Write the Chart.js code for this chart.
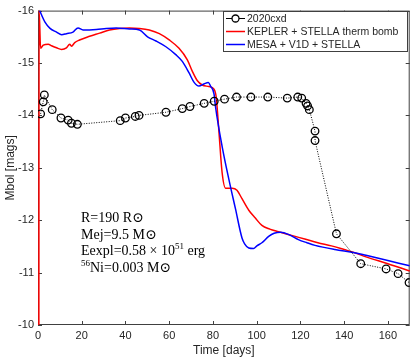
<!DOCTYPE html>
<html>
<head>
<meta charset="utf-8">
<script src="https://cdn.jsdelivr.net/npm/chart.js@4.4.0/dist/chart.umd.min.js"></script>
<style>
  html, body { margin: 0; padding: 0; background: #fff; }
  #wrap { position: relative; width: 415px; height: 358px; }
  #note {
    position: absolute; left: 81px; top: 210px;
    font-family: "Liberation Serif", "DejaVu Serif", serif;
    font-size: 14px; line-height: 16.5px; color: #000;
    white-space: nowrap;
  }
  #note sup { font-size: 9px; line-height: 0; }
</style>
</head>
<body>
<div id="wrap">
  <canvas id="chart" width="415" height="358"></canvas>
  <div id="note">
    R=190 R&#8857;<br>
    Mej=9.5 M&#8857;<br>
    Eexpl=0.58 &times; 10<sup>51</sup> erg<br>
    <sup>56</sup>Ni=0.003 M&#8857;
  </div>
</div>
<script>
// ── datos ──
const X_TICKS = [0, 20, 40, 60, 80, 100, 120, 140, 160];
const Y_TICKS = [-16, -15, -14, -13, -12, -11, -10];

const OBS_LABEL = '2020cxd';
const OBS_DIAS = [1.2, 2.4, 2.9, 6.5, 10.5, 13.8, 15.3, 18.0, 37.6, 40.0, 44.5, 46.2, 58.5, 66.0, 69.5, 76.0, 80.6, 85.3,
  90.8, 97.4, 105.1, 114.0, 118.8, 120.6, 122.6, 123.3, 124.1, 126.7, 126.7, 136.5, 147.6, 159.2, 164.7, 169.7];
const OBS_MAG = [-14.03, -14.26, -14.39, -14.11, -13.95, -13.91, -13.85, -13.83, -13.90, -13.95, -13.98, -14.00, -14.06, -14.13, -14.17, -14.23, -14.27, -14.31,
  -14.35, -14.35, -14.35, -14.33, -14.35, -14.33, -14.23, -14.18, -14.11, -13.70, -13.52, -11.74, -11.17, -11.07, -10.98, -10.81];

const KEPLER_LABEL = 'KEPLER + STELLA therm bomb';
const KEPLER_DIAS = [0.4, 0.5, 1.2, 2.4, 4.7, 6.2, 8.5, 10.8, 13.0, 14.5, 15.3, 16.8, 19.0, 23.6, 28.2, 32.7, 37.3, 41.8, 46.4,
  50.9, 55.5, 60.0, 64.5, 68.3, 70.6, 72.9, 75.1, 78.2, 80.5, 81.5, 82.7, 84.2, 85.8, 88.8, 91.0, 93.3, 96.4, 99.4,
  102.4, 106.0, 110.0, 116.0, 122.0, 128.0, 134.2, 140.0, 144.8, 150.0, 160.0, 170.0];
const KEPLER_MAG = [-10.0, -16.0, -15.28, -15.34, -15.36, -15.33, -15.29, -15.26, -15.29, -15.36, -15.32, -15.39, -15.44, -15.51, -15.57, -15.63, -15.66, -15.67, -15.66,
  -15.63, -15.56, -15.44, -15.28, -15.06, -14.84, -14.66, -14.58, -14.55, -14.50, -14.35, -13.72, -12.91, -12.61, -12.61, -12.57, -12.41, -12.19, -12.04,
  -11.90, -11.83, -11.78, -11.71, -11.64, -11.57, -11.51, -11.44, -11.38, -11.30, -11.17, -11.03];

const MESA_LABEL = 'MESA + V1D + STELLA';
const MESA_DIAS = [0.8, 1.7, 3.2, 5.5, 8.5, 10.8, 13.0, 16.0, 18.3, 20.6, 26.7, 31.2, 35.8, 41.8, 46.4, 50.1, 54.0, 58.5,
  63.0, 66.0, 69.1, 71.4, 73.6, 75.9, 77.9, 78.9, 80.5, 81.2, 84.2, 87.3, 90.3, 93.3, 94.5, 96.4, 98.6, 100.1, 102.4,
  105.5, 108.0, 111.0, 115.0, 119.1, 123.0, 126.7, 135.8, 144.8, 150.0, 160.0, 170.0];
const MESA_MAG = [-16.0, -15.91, -15.78, -15.66, -15.59, -15.54, -15.56, -15.59, -15.67, -15.63, -15.64, -15.66, -15.67, -15.65, -15.63, -15.50, -15.42, -15.31,
  -15.16, -15.03, -14.81, -14.63, -14.56, -14.60, -14.63, -14.56, -14.41, -14.16, -13.41, -12.78, -12.22, -11.66, -11.55, -11.47, -11.46, -11.51, -11.57,
  -11.69, -11.75, -11.77, -11.72, -11.63, -11.57, -11.52, -11.44, -11.38, -11.33, -11.23, -11.13];

// ── helpers ──
const pares = (xs, ys) => xs.map((x, i) => ({ x, y: ys[i] }));
const EJE = '#404040';
const TXT = '#262626';

// marcas hacia dentro en los cuatro lados + marco (estilo MATLAB), debajo de las curvas
const marcoMatlab = {
  id: 'marcoMatlab',
  beforeDatasetsDraw(chart) {
    const { ctx, chartArea: a, scales } = chart;
    ctx.save();
    ctx.strokeStyle = EJE;
    ctx.lineWidth = 1;
    ctx.beginPath();
    X_TICKS.forEach(v => {
      const px = Math.round(scales.x.getPixelForValue(v)) + 0.5;
      ctx.moveTo(px, a.bottom); ctx.lineTo(px, a.bottom - 4);
      ctx.moveTo(px, a.top); ctx.lineTo(px, a.top + 4);
    });
    Y_TICKS.forEach(v => {
      const py = Math.round(scales.y.getPixelForValue(v)) + 0.5;
      ctx.moveTo(a.left, py); ctx.lineTo(a.left + 4, py);
      ctx.moveTo(a.right, py); ctx.lineTo(a.right - 4, py);
    });
    ctx.stroke();
    ctx.strokeRect(a.left + 0.5, a.top + 0.5, a.right - a.left - 1, a.bottom - a.top - 1);
    ctx.restore();
  }
};

// leyenda dentro del área, arriba a la derecha, con recuadro
const leyendaCaja = {
  id: 'leyendaCaja',
  afterDraw(chart) {
    const { ctx } = chart;
    const x0 = 223, y0 = 11, w = 184, h = 40;
    ctx.save();
    ctx.fillStyle = '#fff';
    ctx.fillRect(x0, y0, w, h);
    ctx.strokeStyle = EJE;
    ctx.lineWidth = 1;
    ctx.strokeRect(x0 + 0.5, y0 + 0.5, w, h);
    ctx.font = '10.5px "Liberation Sans", Arial, sans-serif';
    ctx.textBaseline = 'middle';
    chart.data.datasets.forEach((ds, i) => {
      const y = y0 + 7.5 + i * 13;
      ctx.strokeStyle = ds.borderColor;
      ctx.lineWidth = ds.borderWidth;
      ctx.beginPath();
      ctx.moveTo(x0 + 3, y); ctx.lineTo(x0 + 22, y);
      ctx.stroke();
      if (i === 0) {
        ctx.lineWidth = 1.3;
        ctx.beginPath();
        ctx.arc(x0 + 12.5, y, 3.5, 0, Math.PI * 2);
        ctx.fillStyle = '#fff';
        ctx.fill();
        ctx.stroke();
      }
      ctx.fillStyle = TXT;
      ctx.fillText(ds.label, x0 + 24, y + 0.5);
    });
    ctx.restore();
  }
};

new Chart(document.getElementById('chart'), {
  type: 'line',
  data: {
    datasets: [
      {
        label: OBS_LABEL,
        data: pares(OBS_DIAS, OBS_MAG),
        borderColor: '#000',
        borderWidth: 1,
        borderDash: [1, 1.5],
        pointRadius: 3.8,
        pointBorderWidth: 1.3,
        pointBackgroundColor: 'rgba(0,0,0,0)',
        pointBorderColor: '#000',
        tension: 0,
        order: 0,
      },
      {
        label: KEPLER_LABEL,
        data: pares(KEPLER_DIAS, KEPLER_MAG),
        borderColor: '#ff0000',
        borderWidth: 1.5,
        pointRadius: 0,
        cubicInterpolationMode: 'monotone',
        clip: 2,
        order: 2,
      },
      {
        label: MESA_LABEL,
        data: pares(MESA_DIAS, MESA_MAG),
        borderColor: '#0000ff',
        borderWidth: 1.5,
        pointRadius: 0,
        cubicInterpolationMode: 'monotone',
        order: 1,
      },
    ]
  },
  options: {
    responsive: false,
    animation: false,
    events: [],
    layout: { padding: { top: 5, right: 2, left: 0, bottom: 0 } },
    plugins: { legend: { display: false }, tooltip: { enabled: false } },
    scales: {
      x: {
        type: 'linear', min: 0, max: 170,
        afterFit: (s) => { s.height = 33; },
        afterBuildTicks: (s) => { s.ticks = X_TICKS.map(v => ({ value: v })); },
        ticks: { color: TXT, padding: 4, font: { family: '"Liberation Sans", Arial, sans-serif', size: 11 } },
        grid: { display: false, drawTicks: false },
        border: { display: false },
        title: { display: true, text: 'Time [days]', color: TXT, padding: 0,
                 font: { family: '"Liberation Sans", Arial, sans-serif', size: 12 } },
      },
      y: {
        type: 'linear', min: -16, max: -10, reverse: true,
        afterFit: (s) => { s.width = 38; },
        afterBuildTicks: (s) => { s.ticks = Y_TICKS.map(v => ({ value: v })); },
        ticks: { color: TXT, padding: 4, font: { family: '"Liberation Sans", Arial, sans-serif', size: 11 } },
        grid: { display: false, drawTicks: false },
        border: { display: false },
        title: { display: true, text: 'Mbol [mags]', color: TXT, padding: { top: 3, bottom: 0 },
                 font: { family: '"Liberation Sans", Arial, sans-serif', size: 12 } },
      }
    }
  },
  plugins: [marcoMatlab, leyendaCaja]
});
</script>
</body>
</html>
